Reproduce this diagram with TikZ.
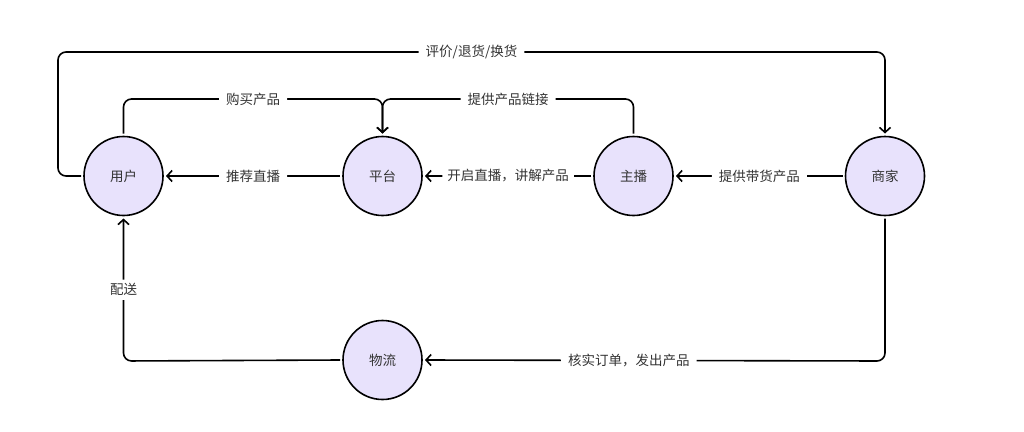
\documentclass[tikz,border=0pt]{standalone}
\usepackage{fontspec}
\setmainfont{Noto Sans CJK SC}
\usetikzlibrary{arrows.meta}
\definecolor{nodefill}{RGB}{232,226,252}
\definecolor{txt}{RGB}{51,51,51}
\tikzset{
  actor/.style={circle, draw=black, line width=1.6pt, fill=nodefill, minimum size=79pt, inner sep=0pt, outer sep=3pt, font=\fontsize{13.5}{16}\selectfont, text=txt},
  conn/.style={draw=black, line width=1.6pt, rounded corners=8pt, -{Straight Barb[length=5pt,width=11pt]}},
  lbl/.style={fill=white, inner xsep=7pt, inner ysep=4pt, font=\fontsize{13.5}{16}\selectfont, text=txt}
}
\begin{document}
\begin{tikzpicture}[x=1pt,y=-1pt]
\useasboundingbox (0,0) rectangle (1024,431);
\node[actor] (yh) at (123.5,176) {用户};
\node[actor] (pt) at (382.5,176) {平台};
\node[actor] (zb) at (633.5,176) {主播};
\node[actor] (sj) at (885,176) {商家};
\node[actor] (wl) at (382.5,360) {物流};
% top loop: 用户 -> 商家
\draw[conn] (yh.west) -- (58,176) -- (58,52) -- node[lbl,pos=0.5]{评价/退货/换货} (885,52) -- (sj.north);
% 用户 -> 平台
\draw[conn] (yh.north) -- (123.5,99) -- node[lbl]{购买产品} (382.5,99) -- (pt.north);
% 主播 -> 平台
\draw[conn] (zb.north) -- (633.5,99) -- node[lbl]{提供产品链接} (382.5,99) -- (pt.north);
% horizontal
\draw[conn] (pt.west) -- node[lbl]{推荐直播} (yh.east);
\draw[conn] (zb.west) -- node[lbl,inner xsep=5pt]{开启直播，讲解产品} (pt.east);
\draw[conn] (sj.west) -- node[lbl]{提供带货产品} (zb.east);
% 商家 -> 物流
\draw[conn] (sj.south) -- (885,361) -- node[lbl,pos=0.557]{核实订单，发出产品} (wl.east);
% 物流 -> 用户
\draw[conn] (wl.west) -- (123.5,361) -- node[lbl,pos=0.5]{配送} (yh.south);
\end{tikzpicture}
\end{document}
